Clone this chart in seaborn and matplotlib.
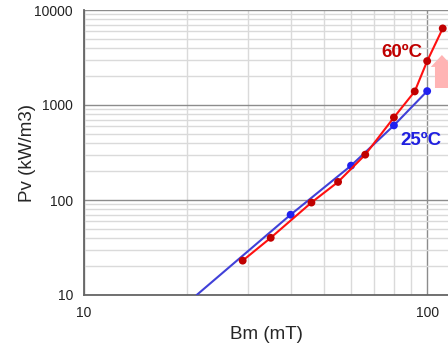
import matplotlib
matplotlib.use("Agg")
import matplotlib.pyplot as plt
import matplotlib.ticker as mticker
import seaborn as sns
import pandas as pd

# 60 °C series
bm_60 = [29, 35, 46, 55, 66, 80, 92, 100, 111]
pv_60 = [23, 40, 94, 155, 300, 740, 1390, 2900, 6400]

# 25 °C series (measured points)
bm_25 = [40, 60, 80, 100]
pv_25 = [70, 230, 610, 1400]

# 25 °C fitted line (extends down to the axis)
bm_25_fit = [21.3, 40, 60, 80, 100]
pv_25_fit = [10, 70, 230, 610, 1400]

x_ticks = [10, 100]
y_ticks = [10, 100, 1000, 10000]

sns.set_style("white")
plt.rcParams["font.family"] = ["Liberation Sans", "DejaVu Sans"]

fig = plt.figure(figsize=(4.48, 3.49), dpi=100)
ax = fig.add_axes([84 / 448, (349 - 295) / 349, 1 - 84 / 448, (295 - 10) / 349])
ax.set_xscale("log")
ax.set_yscale("log")
ax.set_xlim(10, 115)
ax.set_ylim(10, 10000)

df60 = pd.DataFrame({"Bm": bm_60, "Pv": pv_60})
df25 = pd.DataFrame({"Bm": bm_25, "Pv": pv_25})
df25f = pd.DataFrame({"Bm": bm_25_fit, "Pv": pv_25_fit})

sns.lineplot(data=df25f, x="Bm", y="Pv", ax=ax, color="#4040D8", lw=1.5, zorder=3)
sns.scatterplot(data=df25, x="Bm", y="Pv", ax=ax, color="#2020F0", s=32,
                edgecolor="none", zorder=4)
sns.lineplot(data=df60, x="Bm", y="Pv", ax=ax, color="#FF1010", lw=1.5, zorder=5)
sns.scatterplot(data=df60, x="Bm", y="Pv", ax=ax, color="#C00000", s=32,
                edgecolor="none", zorder=6)

# grid
ax.xaxis.set_minor_locator(mticker.LogLocator(base=10, subs=range(2, 10)))
ax.yaxis.set_minor_locator(mticker.LogLocator(base=10, subs=range(2, 10)))
ax.xaxis.set_minor_formatter(mticker.NullFormatter())
ax.yaxis.set_minor_formatter(mticker.NullFormatter())
ax.grid(which="minor", color="#DADADA", lw=1.0, zorder=0)
ax.grid(which="major", color="#8C8C8C", lw=1.0, zorder=1)
ax.set_axisbelow(True)
ax.set_xticks(x_ticks)
ax.set_yticks(y_ticks)
ax.set_xticklabels([str(v) for v in x_ticks])
ax.set_yticklabels([str(v) for v in y_ticks])
ax.tick_params(which="both", length=0, labelsize=10, colors="#222222", pad=8)

for s in ["top", "right"]:
    ax.spines[s].set_visible(False)
for s in ["left", "bottom"]:
    ax.spines[s].set_color("#666666")
    ax.spines[s].set_linewidth(1.3)

ax.set_xlabel("Bm (mT)", fontsize=13.5, labelpad=4)
ax.set_ylabel("Pv (kW/m3)", fontsize=13.5, labelpad=-1)

ax.text(97.2, 3610, "60ºC", color="#C00000", fontsize=13.5,
        fontweight="bold", ha="right", va="center")
ax.text(83.4, 428, "25ºC", color="#2020E0", fontsize=13.5,
        fontweight="bold", ha="left", va="center")

ax.annotate("", xy=(110.4, 3360), xytext=(110.4, 1510),
            arrowprops=dict(arrowstyle="simple,head_width=1.6,head_length=0.86,tail_width=1.0",
                            mutation_scale=10, color="#FFB4B4", lw=0,
                            shrinkA=0, shrinkB=0),
            zorder=2, annotation_clip=False)

fig.savefig("out.png", dpi=100)
